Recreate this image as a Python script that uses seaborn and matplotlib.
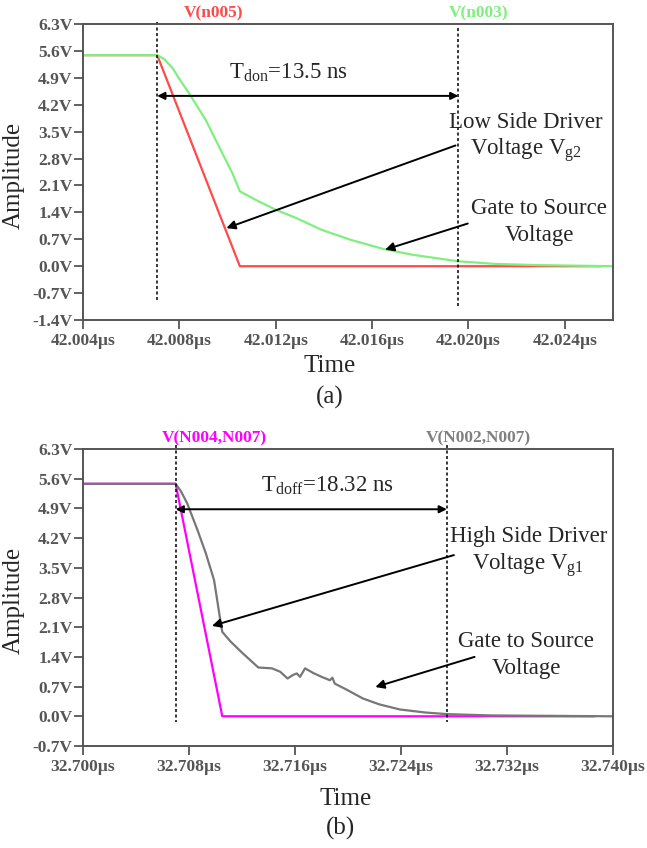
import matplotlib
matplotlib.use("Agg")
import matplotlib.pyplot as plt
import seaborn as sns

# --- panel (a): low side driver, x in µs, y in V ---
t_a_red = [42.004, 42.00708, 42.01051, 42.0255]
v_a_red = [5.49, 5.49, 0.0, 0.0]
t_a_green = [42.004, 42.00708, 42.00738, 42.00772, 42.00798, 42.00840, 42.00909,
             42.00978, 42.0102, 42.01051, 42.01115, 42.0120, 42.01286, 42.01389,
             42.01509, 42.01646, 42.01766, 42.01954, 42.02109, 42.0228, 42.026]
v_a_green = [5.49, 5.49, 5.38, 5.15, 4.89, 4.50, 3.81,
             2.94, 2.42, 1.95, 1.73, 1.47, 1.25, 0.95,
             0.69, 0.45, 0.30, 0.13, 0.06, 0.03, 0.0]
xticks_a = [42.004, 42.008, 42.012, 42.016, 42.020, 42.024]
yticks_a = [6.3, 5.6, 4.9, 4.2, 3.5, 2.8, 2.1, 1.4, 0.7, 0.0, -0.7, -1.4]
cursors_a = [42.00708, 42.01958]

# --- panel (b): high side driver ---
t_b_mag = [32.700, 32.70699, 32.71051, 32.7386]
v_b_mag = [5.48, 5.48, 0.0, 0.0]
t_b_gray = [32.700, 32.70699, 32.7074, 32.70786, 32.70864, 32.70927, 32.70989,
            32.71036, 32.71051, 32.71114, 32.71207, 32.71323, 32.71426, 32.71488,
            32.71544, 32.71582, 32.71613, 32.71638, 32.71676, 32.71738, 32.718,
            32.71863, 32.71882, 32.719, 32.71988, 32.72112, 32.72237, 32.72393,
            32.7258, 32.72752, 32.7308, 32.740]
v_b_gray = [5.48, 5.48, 5.30, 5.02, 4.39, 3.84, 3.21,
            2.27, 1.99, 1.76, 1.48, 1.15, 1.13, 1.05,
            0.89, 0.97, 1.01, 0.93, 1.13, 1.02, 0.93,
            0.85, 0.91, 0.77, 0.63, 0.42, 0.28, 0.16,
            0.09, 0.05, 0.02, 0.0]
xticks_b = [32.700, 32.708, 32.716, 32.724, 32.732, 32.740]
yticks_b = [6.3, 5.6, 4.9, 4.2, 3.5, 2.8, 2.1, 1.4, 0.7, 0.0, -0.7]
cursors_b = [32.70699, 32.72746]

sns.set_style("white")
plt.rcParams["font.family"] = ["Liberation Serif", "DejaVu Serif"]
plt.rcParams["mathtext.fontset"] = "custom"
plt.rcParams["mathtext.rm"] = "Liberation Serif"
plt.rcParams["mathtext.it"] = "Liberation Serif:italic"

GRAY = "#555555"

fig = plt.figure(figsize=(6.47, 8.48), dpi=100)
ax1 = fig.add_axes([0.1283, 0.6226, 0.8192, 0.3491])
ax2 = fig.add_axes([0.1283, 0.1203, 0.8192, 0.3502])


def style_axes(ax, xticks, yticks):
    ax.set_xticks(xticks, labels=[f"{t:.3f}µs" for t in xticks],
                  fontsize=12.5, fontweight="bold", color=GRAY)
    ax.set_yticks(yticks, labels=[f"{v:.1f}V" for v in yticks],
                  fontsize=12.5, fontweight="bold", color=GRAY)
    ax.tick_params(axis="both", direction="out", length=6.5, width=1.3,
                   color=GRAY, left=True, bottom=True)
    ax.tick_params(axis="x", pad=3)
    ax.tick_params(axis="y", pad=1)
    for sp in ax.spines.values():
        sp.set_color(GRAY)
        sp.set_linewidth(1.4)
    ax.set_ylabel("Amplitude", fontsize=18)
    ax.set_xlabel("Time", fontsize=18)
    ax.yaxis.set_label_coords(-0.109, 0.49)


arrow_kw = dict(arrowstyle="-|>", color="black", lw=1.4, mutation_scale=13,
                shrinkA=0, shrinkB=0)
dbl_kw = dict(arrowstyle="<|-|>", color="black", lw=1.4, mutation_scale=11,
              shrinkA=0, shrinkB=0)

# ---------- (a) ----------
sns.lineplot(x=t_a_red, y=v_a_red, ax=ax1, color="#ff4a4a", lw=1.6,
             sort=False, estimator=None)
sns.lineplot(x=t_a_green, y=v_a_green, ax=ax1, color="#7ff07f", lw=1.6,
             sort=False, estimator=None)
ax1.set_xlim(42.004, 42.026)
ax1.set_ylim(-1.4, 6.3)
style_axes(ax1, xticks_a, yticks_a)
ax1.xaxis.set_label_coords(0.466, -0.118)

ax1.plot([cursors_a[0]] * 2, [6.36, -0.87], color="black", lw=1.1,
         ls=(0, (2, 1.6)), clip_on=False)
ax1.plot([cursors_a[1]] * 2, [6.19, -1.06], color="black", lw=1.1,
         ls=(0, (2, 1.6)), clip_on=False)
ax1.annotate("", xy=(cursors_a[0], 4.43), xytext=(cursors_a[1], 4.43),
             arrowprops=dbl_kw)
ax1.text(42.01252, 5.04, r"T$_{\mathrm{don}}$=13.5 ns", fontsize=16.5,
         ha="center", va="center")
ax1.text(42.00943, 6.57, "V(n005)", color="#ff4a4a", fontsize=12.5,
         fontweight="bold", ha="center", va="center", clip_on=False)
ax1.text(42.0204, 6.57, "V(n003)", color="#7ff07f", fontsize=12.5,
         fontweight="bold", ha="center", va="center", clip_on=False)
ax1.text(42.02237, 3.74, "Low Side Driver", fontsize=16.5, ha="center", va="center")
ax1.text(42.02237, 3.01, r"Voltage V$_{\mathrm{g2}}$", fontsize=16.5,
         ha="center", va="center")
ax1.annotate("", xy=(42.00995, 0.99), xytext=(42.01946, 3.14), arrowprops=arrow_kw)
ax1.text(42.02294, 1.51, "Gate to Source", fontsize=16.5, ha="center", va="center")
ax1.text(42.02294, 0.80, "Voltage", fontsize=16.5, ha="center", va="center")
ax1.annotate("", xy=(42.01654, 0.43), xytext=(42.01997, 1.11), arrowprops=arrow_kw)

# ---------- (b) ----------
sns.lineplot(x=t_b_mag, y=v_b_mag, ax=ax2, color="#ff00ff", lw=1.6,
             sort=False, estimator=None)
sns.lineplot(x=t_b_gray, y=v_b_gray, ax=ax2, color="#777777", lw=1.6,
             sort=False, estimator=None)
ax2.set_xlim(32.700, 32.740)
ax2.set_ylim(-0.7, 6.3)
style_axes(ax2, xticks_b, yticks_b)
ax2.xaxis.set_label_coords(0.496, -0.141)

for c in cursors_b:
    ax2.plot([c, c], [6.4, -0.13], color="black", lw=1.1, ls=(0, (2, 1.6)),
             clip_on=False)
ax2.annotate("", xy=(cursors_b[0], 4.88), xytext=(cursors_b[1], 4.88),
             arrowprops=dbl_kw)
ax2.text(32.71847, 5.44, r"T$_{\mathrm{doff}}$=18.32 ns", fontsize=16.5,
         ha="center", va="center")
ax2.text(32.7099, 6.54, "V(N004,N007)", color="#ff00ff", fontsize=12.5,
         fontweight="bold", ha="center", va="center", clip_on=False)
ax2.text(32.72986, 6.54, "V(N002,N007)", color="#808080", fontsize=12.5,
         fontweight="bold", ha="center", va="center", clip_on=False)
ax2.text(32.7336, 4.24, "High Side Driver", fontsize=16.5, ha="center", va="center")
ax2.text(32.7336, 3.57, r"Voltage V$_{\mathrm{g1}}$", fontsize=16.5,
         ha="center", va="center")
ax2.annotate("", xy=(32.70973, 2.13), xytext=(32.72799, 3.80), arrowprops=arrow_kw)
ax2.text(32.73345, 1.77, "Gate to Source", fontsize=16.5, ha="center", va="center")
ax2.text(32.73345, 1.13, "Voltage", fontsize=16.5, ha="center", va="center")
ax2.annotate("", xy=(32.72206, 0.69), xytext=(32.72955, 1.40), arrowprops=arrow_kw)

fig.text(0.51, 0.531, "(a)", fontsize=18, ha="center", va="center")
fig.text(0.526, 0.0236, "(b)", fontsize=18, ha="center", va="center")

fig.savefig("out.png", dpi=100)
